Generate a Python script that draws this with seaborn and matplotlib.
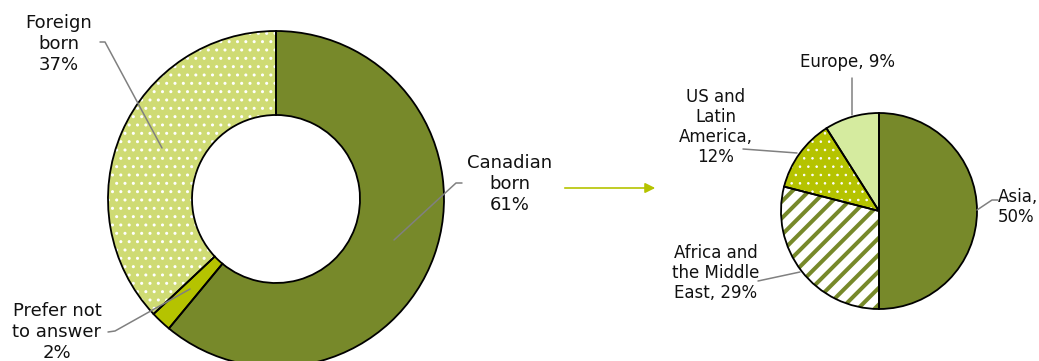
import matplotlib
matplotlib.use("Agg")
import matplotlib.pyplot as plt
import seaborn as sns

# Place of birth (donut) and region of birth for the foreign born (pie)
birth_labels = ["Canadian\nborn\n61%", "Prefer not\nto answer\n2%", "Foreign\nborn\n37%"]
birth_values = [61, 2, 37]

region_labels = ["Asia,\n50%", "Africa and\nthe Middle\nEast, 29%", "US and\nLatin\nAmerica,\n12%", "Europe, 9%"]
region_values = [50, 29, 12, 9]

OLIVE = "#77892a"
LIME = "#b5c300"
PALE = "#d5eb9f"
CHECK = "#cfdb74"

sns.set_theme(style="white")
plt.rcParams["font.family"] = ["DejaVu Sans"]
plt.rcParams["hatch.linewidth"] = 1.0

W, H = 1039, 361
fig = plt.figure(figsize=(W / 100, H / 100), dpi=100)


def px_axes(cx, cy, r):
    ax = fig.add_axes([(cx - r) / W, (H - cy - r) / H, 2 * r / W, 2 * r / H])
    ax.set_xlim(-1, 1)
    ax.set_ylim(-1, 1)
    ax.axis("off")
    return ax


def layered_pie(ax, values, faces, hatches, hatch_colors, hatch_widths, width=None):
    wp = {} if width is None else {"width": width}
    # fill and hatch layer
    wedges, _ = ax.pie(values, startangle=90, counterclock=False, radius=1,
                       wedgeprops=dict(linewidth=0, **wp))
    for w, fc, h, hc, hw in zip(wedges, faces, hatches, hatch_colors, hatch_widths):
        w.set_facecolor(fc)
        w.set_edgecolor(hc)
        if h:
            w.set_hatch(h)
            if hasattr(w, "set_hatch_linewidth"):
                w.set_hatch_linewidth(hw)
            else:
                w._hatch_linewidth = hw
    # outline layer
    ax.pie(values, startangle=90, counterclock=False, radius=1,
           colors=["none"] * len(values),
           wedgeprops=dict(edgecolor="black", linewidth=1.3, **wp))
    ax.set_xlim(-1, 1)
    ax.set_ylim(-1, 1)


# Donut: place of birth
ax1 = px_axes(276, 199, 168)
layered_pie(ax1, birth_values,
            faces=[OLIVE, LIME, CHECK],
            hatches=[None, None, ".."],
            hatch_colors=[OLIVE, LIME, "white"],
            hatch_widths=[1, 1, 1],
            width=0.5)

# Pie: region of birth
ax2 = px_axes(879, 211, 98)
layered_pie(ax2, region_values,
            faces=[OLIVE, "white", LIME, PALE],
            hatches=[None, "//", "..", None],
            hatch_colors=[OLIVE, OLIVE, "white", PALE],
            hatch_widths=[1, 2.9, 0.6, 1])

# Overlay in pixel coordinates for labels, leader lines and the arrow
ov = fig.add_axes([0, 0, 1, 1], zorder=5)
ov.set_xlim(0, W)
ov.set_ylim(H, 0)
ov.axis("off")
ov.patch.set_alpha(0)

GRAY = "#808080"
left_kw = dict(fontsize=13, linespacing=1.25, ha="center", va="center", color="#111111")
right_kw = dict(fontsize=12, linespacing=1.15, va="center", color="#111111")

ov.text(510, 184, birth_labels[0], **left_kw)
ov.text(57, 332, birth_labels[1], **left_kw)
ov.text(59, 44, birth_labels[2], **left_kw)

ov.text(998, 207, region_labels[0], ha="left", **right_kw)
ov.text(716, 273, region_labels[1], ha="center", **right_kw)
ov.text(716, 127, region_labels[2], ha="center", **right_kw)
ov.text(848, 62, region_labels[3], ha="center", **right_kw)

leaders = [
    ([462, 456, 394], [183, 183, 240]),
    ([100, 105, 162], [42, 42, 148]),
    ([108, 115, 190], [332, 331, 289]),
    ([998, 992, 977], [200, 200, 210]),
    ([758, 800], [281, 272]),
    ([743, 797], [149, 153]),
    ([852, 852], [78, 115]),
]
for xs, ys in leaders:
    ov.plot(xs, ys, color=GRAY, linewidth=1.1)

ov.annotate("", xy=(658, 188), xytext=(562, 188),
            arrowprops=dict(arrowstyle="-|>,head_length=0.5,head_width=0.25",
                            color=LIME, linewidth=1.2))

fig.savefig("out.png", dpi=100)
